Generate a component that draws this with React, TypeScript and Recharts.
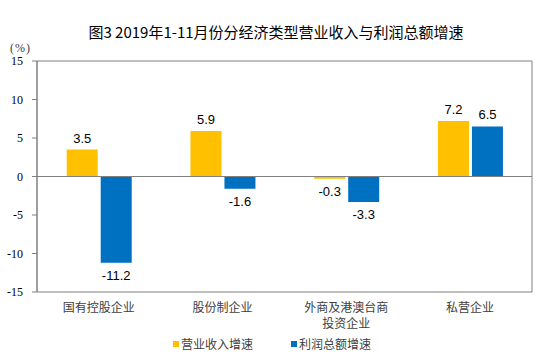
import React from 'react';
import { BarChart, Bar, XAxis, YAxis, ReferenceLine, ReferenceArea, LabelList, Legend } from 'recharts';

const categories = ['国有控股企业', '股份制企业', '外商及港澳台商投资企业', '私营企业'];
const revenueGrowth = [3.5, 5.9, -0.3, 7.2];
const profitGrowth = [-11.2, -1.6, -3.3, 6.5];
const yTicks = [-15, -10, -5, 0, 5, 10, 15];
const seriesNames = ['营业收入增速', '利润总额增速'];
const title = '图3 2019年1-11月份分经济类型营业收入与利润总额增速';

const data = categories.map((c, i) => ({ name: c, rev: revenueGrowth[i], prof: profitGrowth[i] }));

const CJK = '"Noto Sans CJK SC", "Noto Sans", sans-serif';
const SERIF = '"Liberation Serif", "Times New Roman", serif';

const CatTick = (props: any) => {
  const { x, y, payload } = props;
  const v: string = payload.value;
  const lines = v.length > 7 ? [v.slice(0, 7), v.slice(7)] : [v];
  return (
    <g>
      {lines.map((l, i) => (
        <text key={i} x={x} y={y + 12 + i * 16} textAnchor="middle" fill="#404040" fontSize={12} fontFamily={CJK}>
          {l}
        </text>
      ))}
    </g>
  );
};

const ValueLabel = (props: any) => {
  const { x, y, width, height, value } = props;
  const top = Math.min(y, y + height);
  const bottom = Math.max(y, y + height);
  const cx = x + width / 2;
  const ty = value >= 0 ? top - 7 : bottom + 17;
  return (
    <text x={cx} y={ty} textAnchor="middle" fill="#000" fontSize={13} fontFamily='"Liberation Sans", Arial, sans-serif'>
      {value}
    </text>
  );
};

const LegendContent = () => (
  <div style={{ display: 'flex', justifyContent: 'center', fontFamily: CJK, fontSize: 12, color: '#404040', paddingLeft: 12, paddingTop: 3 }}>
    <div style={{ display: 'flex', alignItems: 'center', marginRight: 38 }}>
      <span style={{ width: 6, height: 6, background: '#FFC000', display: 'inline-block', marginRight: 2 }} />
      {seriesNames[0]}
    </div>
    <div style={{ display: 'flex', alignItems: 'center' }}>
      <span style={{ width: 6, height: 6, background: '#0070C0', display: 'inline-block', marginRight: 2 }} />
      {seriesNames[1]}
    </div>
  </div>
);

export default function App() {
  return (
    <div style={{ position: 'absolute', left: 0, top: 0, width: 550, height: 360, background: '#fff' }}>
      <div style={{ position: 'absolute', left: 0, top: 22, width: 552, textAlign: 'center', fontFamily: CJK, fontSize: 15, color: '#000', lineHeight: '20px' }}>
        {title}
      </div>
      <div style={{ position: 'absolute', left: 10, top: 40, fontFamily: SERIF, fontSize: 12, color: '#404040', lineHeight: '16px', letterSpacing: 1 }}>
        (%)
      </div>
      <BarChart width={550} height={360} data={data} margin={{ top: 61, right: 18, left: 0, bottom: 0 }} barGap={3} barCategoryGap="24%">
        <XAxis dataKey="name" height={40} axisLine={false} tickLine={false} tick={<CatTick />} interval={0} />
        <YAxis
          domain={[-15, 15]}
          ticks={yTicks}
          width={37}
          axisLine={{ stroke: '#808080' }}
          tickLine={{ stroke: '#808080' }}
          tickSize={5}
          tickMargin={9}
          tick={{ fill: '#000', fontSize: 12, fontFamily: SERIF }}
          allowDataOverflow
        />
        <ReferenceArea y1={-15} y2={15} fill="none" stroke="#808080" strokeWidth={1} ifOverflow="visible" />
        <ReferenceLine y={0} stroke="#808080" strokeWidth={1} />
        <Bar dataKey="rev" name={seriesNames[0]} fill="#FFC000" isAnimationActive={false}>
          <LabelList dataKey="rev" content={<ValueLabel />} />
        </Bar>
        <Bar dataKey="prof" name={seriesNames[1]} fill="#0070C0" isAnimationActive={false}>
          <LabelList dataKey="prof" content={<ValueLabel />} />
        </Bar>
        <Legend verticalAlign="bottom" height={28} content={<LegendContent />} />
      </BarChart>
    </div>
  );
}
